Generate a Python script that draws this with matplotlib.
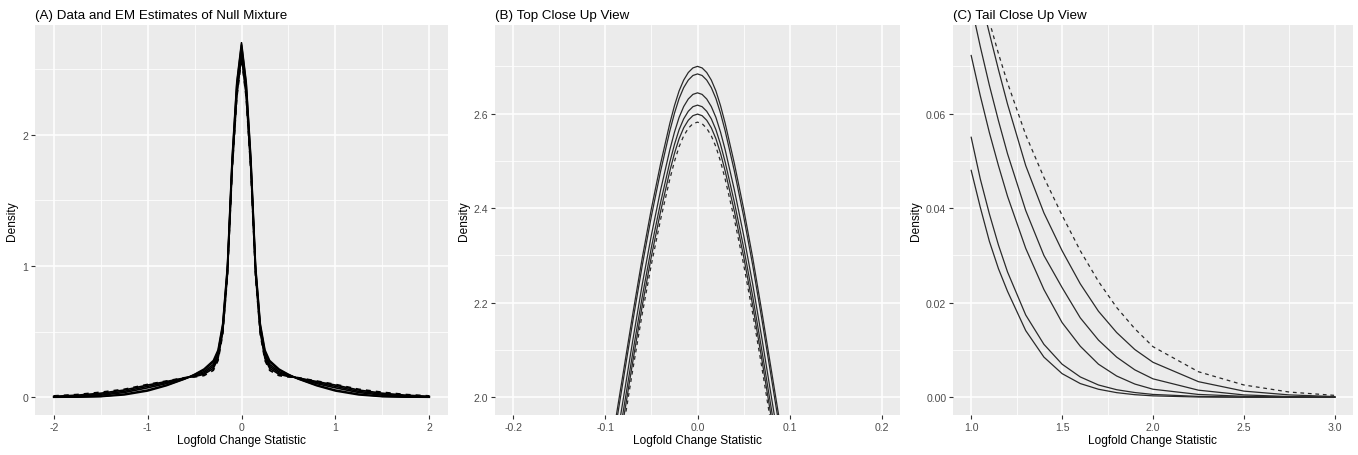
import matplotlib
matplotlib.use("Agg")
import matplotlib.pyplot as plt
from matplotlib.ticker import FixedLocator

plt.rcParams['font.family'] = ['Liberation Sans', 'DejaVu Sans']
plt.rcParams['axes.unicode_minus'] = False

# ---------------- Panel A data ----------------
xa = [-2.0, -1.75, -1.5, -1.25, -1.0, -0.8, -0.6, -0.5, -0.4, -0.3, -0.25, -0.2, -0.15, -0.1, -0.05,
      0.0, 0.05, 0.1, 0.15, 0.2, 0.25, 0.3, 0.4, 0.5, 0.6, 0.8, 1.0, 1.25, 1.5, 1.75, 2.0]
a1 = [0.0003, 0.0013, 0.005, 0.018, 0.048, 0.088, 0.140, 0.175, 0.215, 0.280, 0.360, 0.560, 1.000, 1.820, 2.400,
      2.700, 2.400, 1.820, 1.000, 0.560, 0.360, 0.280, 0.215, 0.175, 0.140, 0.088, 0.048, 0.018, 0.005, 0.0013, 0.0003]
a2 = [0.0006, 0.002, 0.007, 0.024, 0.055, 0.093, 0.142, 0.172, 0.207, 0.268, 0.345, 0.545, 0.985, 1.800, 2.384,
      2.684, 2.384, 1.800, 0.985, 0.545, 0.345, 0.268, 0.207, 0.172, 0.142, 0.093, 0.055, 0.024, 0.007, 0.002, 0.0006]
a3 = [0.0017, 0.0058, 0.0158, 0.036, 0.072, 0.104, 0.145, 0.168, 0.195, 0.250, 0.325, 0.525, 0.965, 1.770, 2.344,
      2.644, 2.344, 1.770, 0.965, 0.525, 0.325, 0.250, 0.195, 0.168, 0.145, 0.104, 0.072, 0.036, 0.0158, 0.0058, 0.0017]
a4 = [0.0039, 0.010, 0.0232, 0.045, 0.083, 0.112, 0.147, 0.163, 0.185, 0.235, 0.310, 0.510, 0.950, 1.750, 2.318,
      2.618, 2.318, 1.750, 0.950, 0.510, 0.310, 0.235, 0.185, 0.163, 0.147, 0.112, 0.083, 0.045, 0.0232, 0.010, 0.0039]
a5 = [0.0074, 0.016, 0.031, 0.055, 0.093, 0.120, 0.148, 0.158, 0.175, 0.220, 0.295, 0.495, 0.935, 1.735, 2.299,
      2.599, 2.299, 1.735, 0.935, 0.495, 0.295, 0.220, 0.175, 0.158, 0.148, 0.120, 0.093, 0.055, 0.031, 0.016, 0.0074]
a6 = [0.0107, 0.021, 0.0385, 0.061, 0.098, 0.124, 0.150, 0.155, 0.165, 0.205, 0.280, 0.480, 0.920, 1.720, 2.282,
      2.582, 2.282, 1.720, 0.920, 0.480, 0.280, 0.205, 0.165, 0.155, 0.150, 0.124, 0.098, 0.061, 0.0385, 0.021, 0.0107]

# ---------------- Panel B data ----------------
xb = [-0.09, -0.08, -0.07, -0.06, -0.05, -0.04, -0.03, -0.025, -0.02, -0.015, -0.01, -0.005, 0.0,
      0.005, 0.01, 0.015, 0.02, 0.025, 0.03, 0.04, 0.05, 0.06, 0.07, 0.08, 0.09]
b1 = [1.940, 2.060, 2.180, 2.295, 2.400, 2.495, 2.580, 2.617, 2.648, 2.671, 2.687, 2.6967, 2.700,
      2.6967, 2.687, 2.671, 2.648, 2.617, 2.580, 2.495, 2.400, 2.295, 2.180, 2.060, 1.940]
b2 = [1.924, 2.044, 2.164, 2.279, 2.384, 2.479, 2.564, 2.601, 2.632, 2.655, 2.671, 2.6807, 2.684,
      2.6807, 2.671, 2.655, 2.632, 2.601, 2.564, 2.479, 2.384, 2.279, 2.164, 2.044, 1.924]
b3 = [1.884, 2.004, 2.124, 2.239, 2.344, 2.439, 2.524, 2.561, 2.592, 2.615, 2.631, 2.6407, 2.644,
      2.6407, 2.631, 2.615, 2.592, 2.561, 2.524, 2.439, 2.344, 2.239, 2.124, 2.004, 1.884]
b4 = [1.858, 1.978, 2.098, 2.213, 2.318, 2.413, 2.498, 2.535, 2.566, 2.589, 2.605, 2.6147, 2.618,
      2.6147, 2.605, 2.589, 2.566, 2.535, 2.498, 2.413, 2.318, 2.213, 2.098, 1.978, 1.858]
b5 = [1.839, 1.959, 2.079, 2.194, 2.299, 2.394, 2.479, 2.516, 2.547, 2.570, 2.586, 2.5957, 2.599,
      2.5957, 2.586, 2.570, 2.547, 2.516, 2.479, 2.394, 2.299, 2.194, 2.079, 1.959, 1.839]
b6 = [1.822, 1.942, 2.062, 2.177, 2.282, 2.377, 2.462, 2.499, 2.530, 2.553, 2.569, 2.5787, 2.582,
      2.5787, 2.569, 2.553, 2.530, 2.499, 2.462, 2.377, 2.282, 2.177, 2.062, 1.942, 1.822]

# ---------------- Panel C data ----------------
xc = [1.0, 1.05, 1.1, 1.15, 1.2, 1.3, 1.4, 1.5, 1.6, 1.7, 1.8, 1.9, 2.0, 2.25, 2.5, 2.75, 3.0]
c1 = [0.048, 0.0402, 0.033, 0.0272, 0.0224, 0.0141, 0.0085, 0.0050, 0.0029, 0.0017, 0.00098, 0.00055, 0.0003, 0.00005, 0.00001, 0.0, 0.0]
c2 = [0.055, 0.0462, 0.0388, 0.0322, 0.0265, 0.0174, 0.0112, 0.0070, 0.0043, 0.0026, 0.0016, 0.0010, 0.0006, 0.00018, 0.00004, 0.00001, 0.0]
c3 = [0.0723, 0.0638, 0.0560, 0.0490, 0.0425, 0.0315, 0.0228, 0.0158, 0.0108, 0.0070, 0.0045, 0.0028, 0.0017, 0.0006, 0.0002, 0.00005, 0.0]
c4 = [0.083, 0.0742, 0.066, 0.0585, 0.0515, 0.0395, 0.0300, 0.0232, 0.0168, 0.0121, 0.0085, 0.0058, 0.0039, 0.0015, 0.0005, 0.00015, 0.00004]
c5 = [0.093, 0.0848, 0.077, 0.0693, 0.062, 0.049, 0.039, 0.031, 0.024, 0.0182, 0.0137, 0.0101, 0.0074, 0.0033, 0.0013, 0.0005, 0.00015]
c6 = [0.098, 0.0885, 0.0795, 0.0727, 0.0665, 0.0555, 0.0465, 0.0385, 0.031, 0.0245, 0.019, 0.0145, 0.0107, 0.0054, 0.0026, 0.0011, 0.0004]

titles = ["(A) Data and EM Estimates of Null Mixture", "(B) Top Close Up View", "(C) Tail Close Up View"]
xlabel = "Logfold Change Statistic"
ylabel = "Density"

W, H = 1358, 456
fig = plt.figure(figsize=(W / 100, H / 100), dpi=100)

def box(l, r, t=26, b=416):
    return [l / W, (H - b) / H, (r - l) / W, (b - t) / H]

axA = fig.add_axes(box(35, 448))
axB = fig.add_axes(box(495, 900))
axC = fig.add_axes(box(953, 1353))

panels = [
    (axA, xa, [a1, a2, a3, a4, a5, a6], (-2.2, 2.2), (-0.135, 2.835),
     [-2, -1, 0, 1, 2], ["-2", "-1", "0", "1", "2"], [-1.5, -0.5, 0.5, 1.5],
     [0, 1, 2], ["0", "1", "2"], [0.5, 1.5, 2.5]),
    (axB, xb, [b1, b2, b3, b4, b5, b6], (-0.22, 0.22), (1.9625, 2.7875),
     [-0.2, -0.1, 0.0, 0.1, 0.2], ["-0.2", "-0.1", "0.0", "0.1", "0.2"], [-0.15, -0.05, 0.05, 0.15],
     [2.0, 2.2, 2.4, 2.6], ["2.0", "2.2", "2.4", "2.6"], [2.1, 2.3, 2.5, 2.7]),
    (axC, xc, [c1, c2, c3, c4, c5, c6], (0.9, 3.1), (-0.00375, 0.07875),
     [1.0, 1.5, 2.0, 2.5, 3.0], ["1.0", "1.5", "2.0", "2.5", "3.0"], [1.25, 1.75, 2.25, 2.75],
     [0.0, 0.02, 0.04, 0.06], ["0.00", "0.02", "0.04", "0.06"], [0.01, 0.03, 0.05, 0.07]),
]

for i, (ax, xs, ys, xl, yl, xt, xtl, xm, yt, ytl, ym) in enumerate(panels):
    ax.set_facecolor("#EBEBEB")
    for s in ax.spines.values():
        s.set_visible(False)
    ax.set_xlim(*xl)
    ax.set_ylim(*yl)
    ax.xaxis.set_major_locator(FixedLocator(xt))
    ax.set_xticklabels(xtl)
    ax.xaxis.set_minor_locator(FixedLocator(xm))
    ax.yaxis.set_major_locator(FixedLocator(yt))
    ax.set_yticklabels(ytl)
    ax.yaxis.set_minor_locator(FixedLocator(ym))
    ax.grid(which="major", color="white", linewidth=1.1)
    ax.grid(which="minor", color="white", linewidth=0.55)
    ax.set_axisbelow(True)
    ax.tick_params(which="major", length=2.8, width=0.8, color="#333333",
                   labelcolor="#4D4D4D", labelsize=7.6, pad=2)
    ax.tick_params(which="minor", length=0)
    lw = 1.2 if i == 0 else 0.9
    col = "black" if i == 0 else "#2a2a2a"
    for k, y in enumerate(ys):
        if k == 5:
            ax.plot(xs, y, color=col, lw=lw, linestyle=(0, (3.0, 3.0)))
        else:
            ax.plot(xs, y, color=col, lw=lw)
    ax.set_xlabel(xlabel, fontsize=8.6, color="black", labelpad=2)
    ax.set_ylabel(ylabel, fontsize=8.6, color="black", labelpad=3)
    ax.set_title(titles[i], loc="left", fontsize=9.6, color="black", pad=5)

fig.savefig("out.png", dpi=100, facecolor="white")
